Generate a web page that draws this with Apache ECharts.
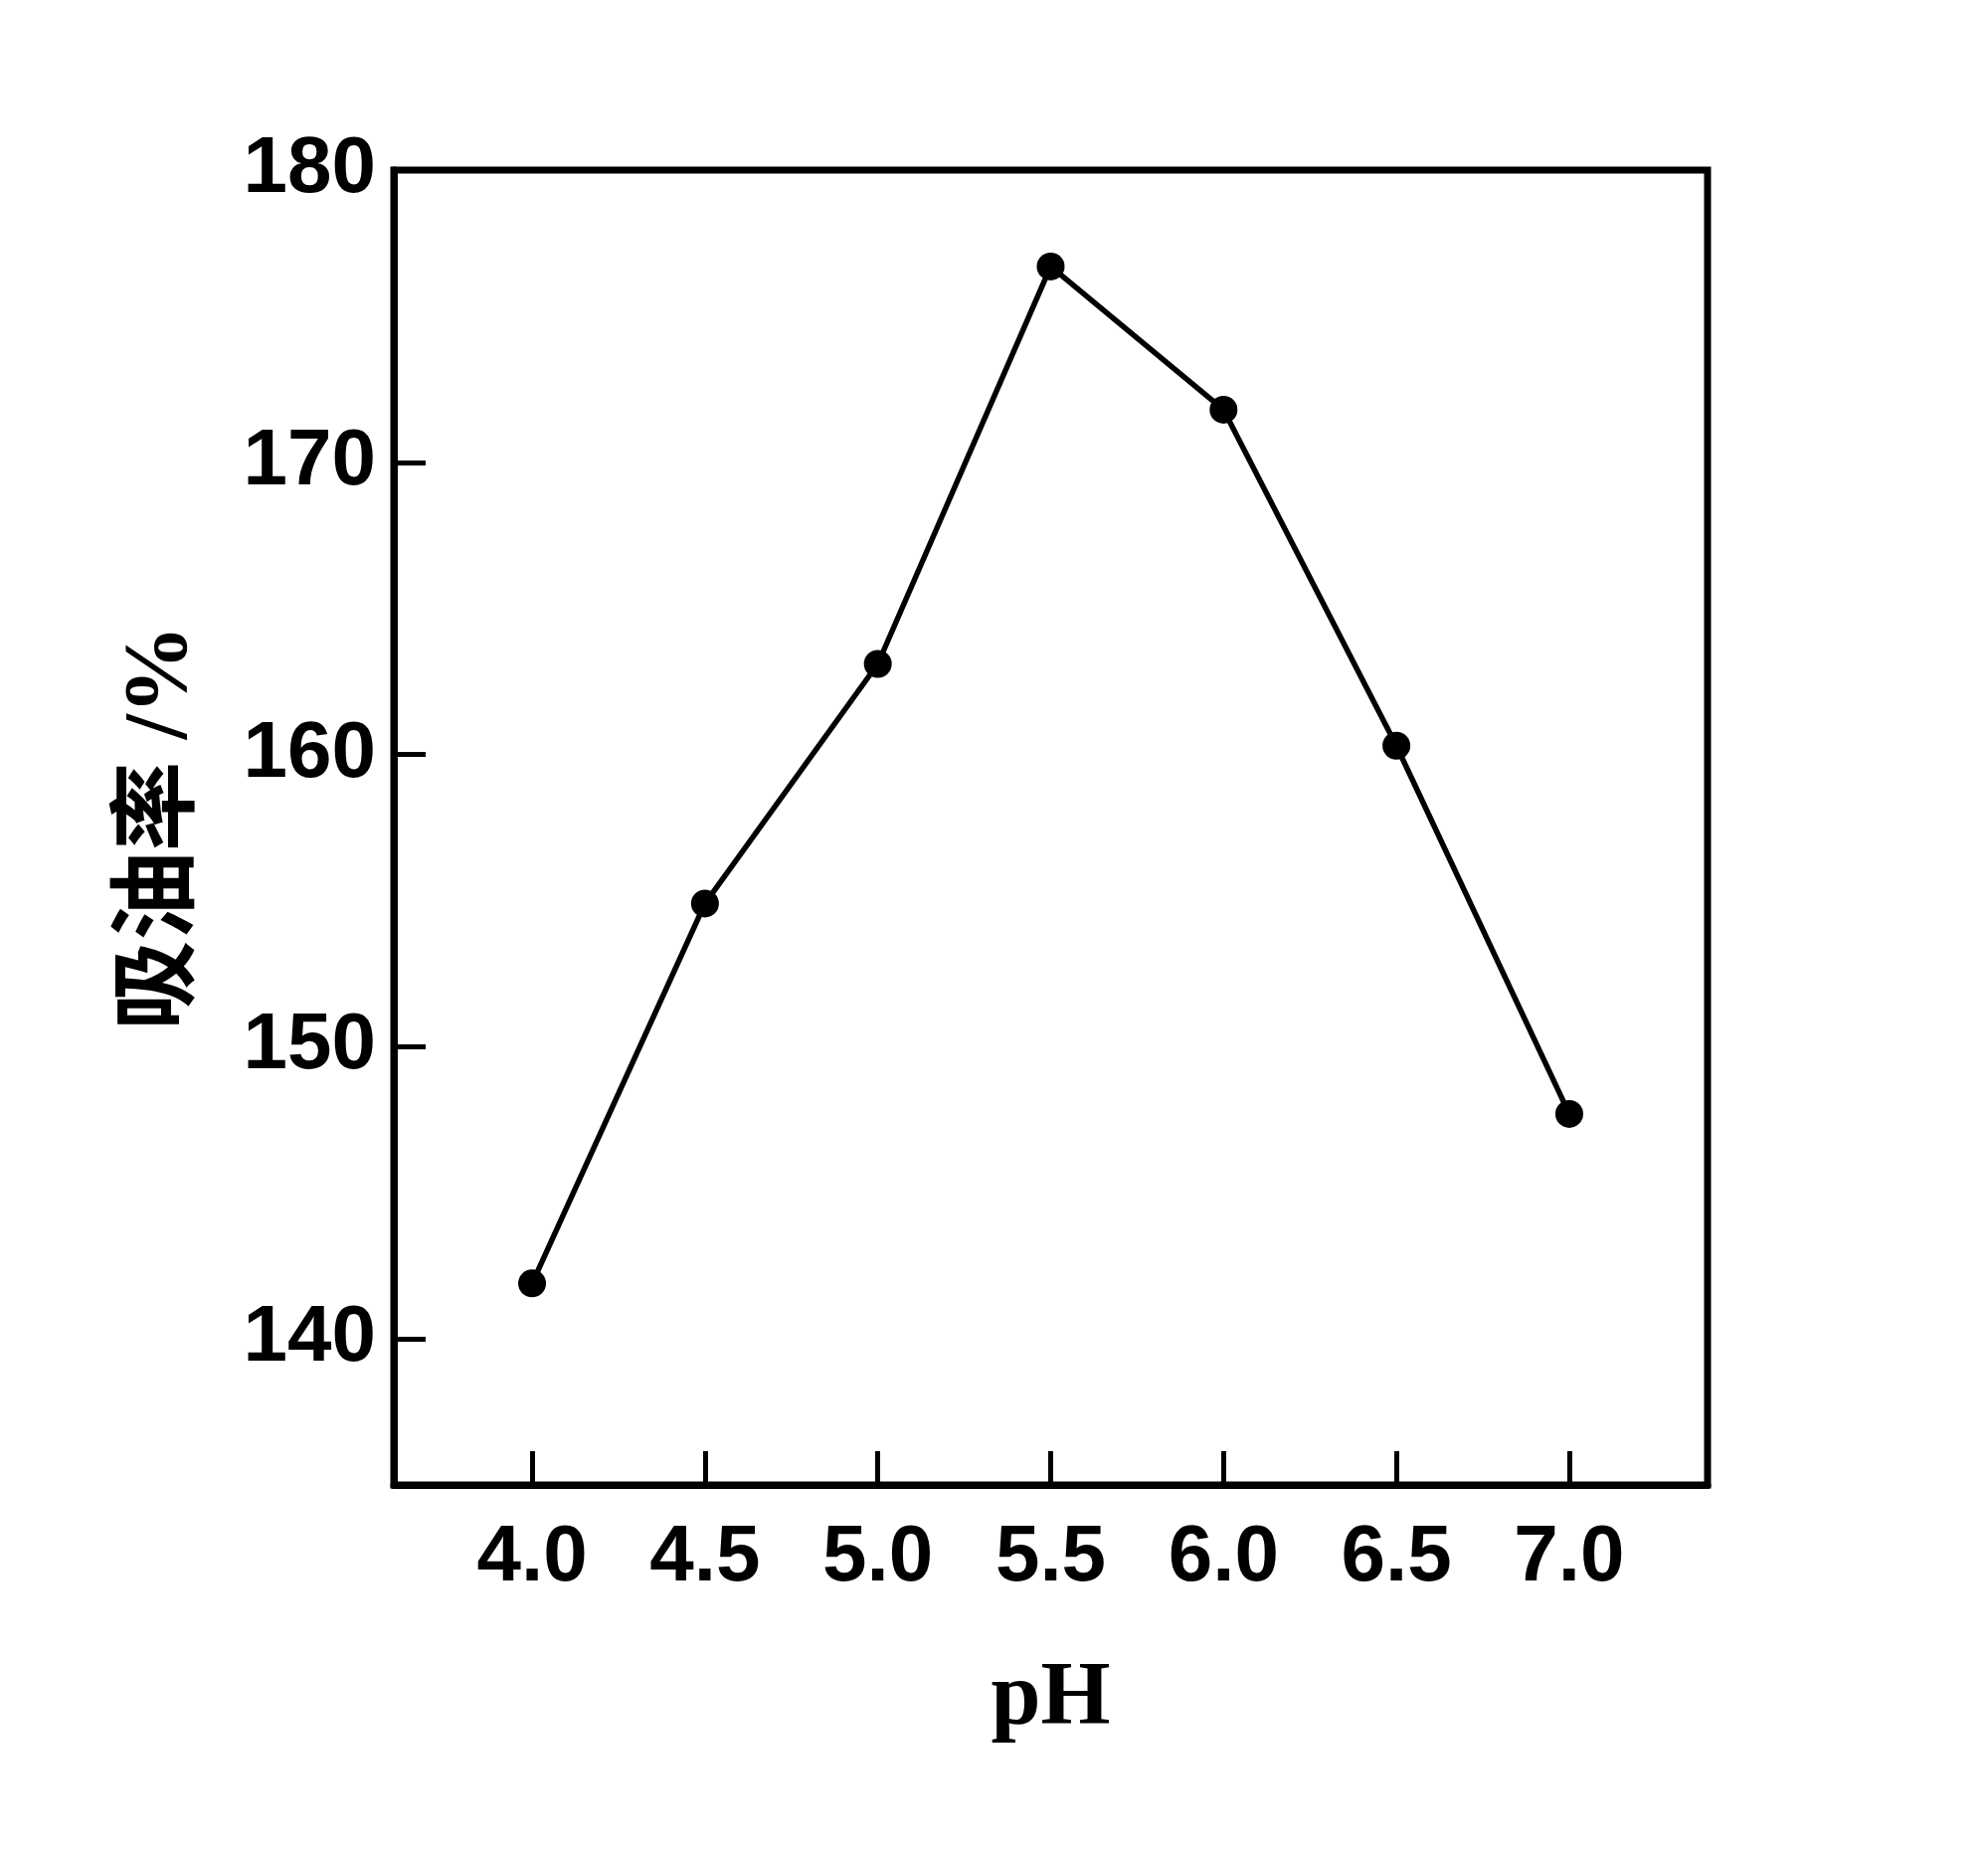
<!DOCTYPE html>
<html>
<head>
<meta charset="utf-8">
<script src="https://cdn.jsdelivr.net/npm/echarts@6/dist/echarts.min.js"></script>
<style>html,body{margin:0;padding:0;background:#fff;}#c{width:1999px;height:1861px;}</style>
</head>
<body>
<div id="c"></div>
<script>
const phValues = [4.0, 4.5, 5.0, 5.5, 6.0, 6.5, 7.0];
const oilAbsorption = [141.9, 154.9, 163.1, 176.7, 171.8, 160.3, 147.7];
const xTicks = [4.0, 4.5, 5.0, 5.5, 6.0, 6.5, 7.0];
const yTicks = [140, 150, 160, 170, 180];
const xName = 'pH';
const yName = '吸油率 /%';

const chart = echarts.init(document.getElementById('c'), null, {renderer: 'canvas'});
const labelFont = {fontFamily: 'Liberation Sans, Arial, sans-serif', fontWeight: 'bold', fontSize: 80, color: '#000'};
chart.setOption({
  animation: false,
  backgroundColor: '#fff',
  grid: {left: 396, right: 282, top: 171, bottom: 368, show: true, borderColor: '#000', borderWidth: 7, backgroundColor: 'transparent'},
  xAxis: {
    type: 'value', min: 3.6, max: 7.4,
    name: xName, nameLocation: 'middle', nameGap: 172,
    nameTextStyle: {fontFamily: 'Liberation Serif, Times New Roman, serif', fontWeight: 'bold', fontSize: 90, color: '#000'},
    axisLine: {show: true, lineStyle: {color: '#000', width: 7}},
    axisTick: {show: true, inside: true, length: 34, lineStyle: {color: '#000', width: 5}, customValues: xTicks},
    axisLabel: Object.assign({margin: 34, customValues: xTicks, formatter: v => Number(v).toFixed(1)}, labelFont),
    splitLine: {show: false}
  },
  yAxis: {
    type: 'value', min: 135, max: 180,
    name: yName, nameLocation: 'middle', nameGap: 187, nameRotate: 90,
    nameTextStyle: {fontFamily: 'Liberation Serif, Noto Sans CJK SC, serif', fontWeight: 'bold', fontSize: 90, color: '#000'},
    axisLine: {show: true, lineStyle: {color: '#000', width: 7}},
    axisTick: {show: true, inside: true, length: 32, lineStyle: {color: '#000', width: 5}, customValues: yTicks},
    axisLabel: Object.assign({margin: 18, customValues: yTicks}, labelFont),
    splitLine: {show: false}
  },
  series: [{
    type: 'line',
    data: phValues.map((x, i) => [x, oilAbsorption[i]]),
    symbol: 'circle', symbolSize: 28,
    itemStyle: {color: '#000'},
    lineStyle: {color: '#000', width: 5.5}
  }]
});
</script>
</body>
</html>
